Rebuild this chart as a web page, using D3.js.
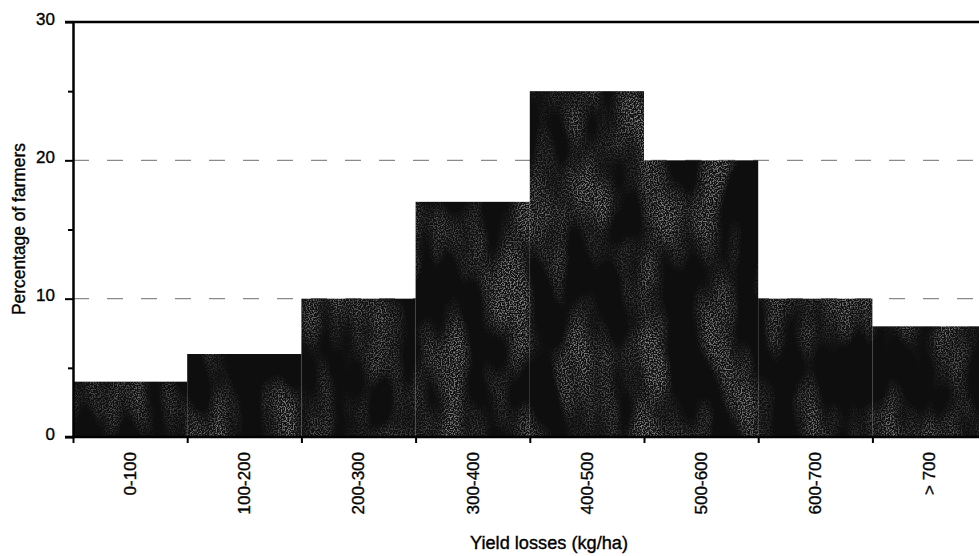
<!DOCTYPE html>
<html>
<head>
<meta charset="utf-8">
<script src="https://cdn.jsdelivr.net/npm/d3@7"></script>
<style>
  html, body { margin: 0; padding: 0; background: #fff; }
  svg { display: block; }
  text { font-family: "Liberation Sans", Arial, sans-serif; fill: #000; stroke: #000; stroke-width: 0.35px; }
</style>
</head>
<body>
<script>
// ---- data ----
const categories = ["0-100", "100-200", "200-300", "300-400", "400-500", "500-600", "600-700", "> 700"];
const percentages = [4, 6, 10, 17, 25, 20, 10, 8];
const yMajorTicks = [0, 10, 20, 30];
const yMinorTicks = [5, 15, 25];
const gridValues = [10, 20];
const xTitle = "Yield losses (kg/ha)";
const yTitle = "Percentage of farmers";

// ---- layout ----
const W = 979, H = 556;
const plotLeft = 73, plotTop = 22, plotBottom = 437;
const bandW = 114.2;
const plotRight = plotLeft + bandW * categories.length;

const svg = d3.select("body").append("svg").attr("width", W).attr("height", H);

const x = d3.scaleBand().domain(categories).range([plotLeft, plotRight]).padding(0);
const xb = d3.scaleLinear().domain([0, categories.length]).range([plotLeft, plotRight]);
const y = d3.scaleLinear().domain([0, 30]).range([plotBottom, plotTop]);

// gridlines
svg.append("g").selectAll("line").data(gridValues).join("line")
  .attr("x1", plotLeft).attr("x2", W)
  .attr("y1", d => y(d)).attr("y2", d => y(d))
  .attr("stroke", "#8a8a8a").attr("stroke-width", 1.3)
  .attr("stroke-dasharray", "16,18");

// speckle texture filter for bars (scanned-print look)
const defs = svg.append("defs");
const f = defs.append("filter").attr("id", "grain")
  .attr("x", 0).attr("y", 0).attr("width", 1).attr("height", 1)
  .attr("color-interpolation-filters", "sRGB");
f.append("feTurbulence").attr("type", "fractalNoise").attr("baseFrequency", "0.03 0.012")
  .attr("numOctaves", 2).attr("seed", 3).attr("result", "low");
f.append("feColorMatrix").attr("in", "low").attr("type", "matrix")
  .attr("values", "0 0 0 0 0  0 0 0 0 0  0 0 0 0 0  3.2 0 0 0 -1.3").attr("result", "mask");
f.append("feTurbulence").attr("type", "fractalNoise").attr("baseFrequency", "0.75")
  .attr("numOctaves", 1).attr("seed", 9).attr("result", "fine");
f.append("feColorMatrix").attr("in", "fine").attr("type", "matrix")
  .attr("values", "0 0 0 0 0.5  0 0 0 0 0.5  0 0 0 0 0.5  5 0 0 0 -2.25").attr("result", "specks");
f.append("feComposite").attr("in", "specks").attr("in2", "mask").attr("operator", "in").attr("result", "sp");
f.append("feComposite").attr("in", "sp").attr("in2", "SourceGraphic").attr("operator", "atop");

// bars
svg.append("g").selectAll("rect").data(categories).join("rect")
  .attr("x", d => x(d))
  .attr("y", (d, i) => y(percentages[i]))
  .attr("width", x.bandwidth())
  .attr("height", (d, i) => y(0) - y(percentages[i]))
  .attr("fill", "#0e0e0e")
  .attr("filter", "url(#grain)");

// top border
svg.append("line").attr("x1", plotLeft - 8).attr("x2", W).attr("y1", plotTop).attr("y2", plotTop)
  .attr("stroke", "#000").attr("stroke-width", 2.5);

// y axis major
const yAx = svg.append("g").attr("transform", `translate(${plotLeft},0)`)
  .call(d3.axisLeft(y).tickValues(yMajorTicks).tickSize(8).tickSizeOuter(0).tickPadding(10).tickFormat(d3.format("d")));
yAx.select(".domain").attr("stroke-width", 2.5);
yAx.selectAll(".tick line").attr("stroke-width", 2);
yAx.selectAll(".tick text").attr("font-size", 17).attr("dy", "0.12em")
  .style("font-family", '"Liberation Sans", Arial, sans-serif');

// y axis minor
const yMin = svg.append("g").attr("transform", `translate(${plotLeft},0)`)
  .call(d3.axisLeft(y).tickValues(yMinorTicks).tickSize(5).tickSizeOuter(0).tickFormat(""));
yMin.select(".domain").remove();
yMin.selectAll(".tick line").attr("stroke-width", 2);

// x axis boundary ticks
const xTk = svg.append("g").attr("transform", `translate(0,${plotBottom})`)
  .call(d3.axisBottom(xb).tickValues(d3.range(categories.length)).tickSize(6).tickSizeOuter(0).tickFormat(""));
xTk.select(".domain").remove();
xTk.selectAll(".tick line").attr("stroke-width", 2);

// x axis line + labels
const xAx = svg.append("g").attr("transform", `translate(0,${plotBottom})`)
  .call(d3.axisBottom(x).tickSize(0).tickSizeOuter(0));
xAx.select(".domain").attr("d", `M${plotLeft - 8},0H${W}`).attr("stroke-width", 2.5);
xAx.selectAll(".tick text")
  .attr("font-size", 17)
  .style("font-family", '"Liberation Sans", Arial, sans-serif')
  .attr("transform", "rotate(-90)")
  .attr("text-anchor", "end")
  .attr("x", -15).attr("y", 0).attr("dy", "0.35em");

// titles
svg.append("text").attr("x", 549).attr("y", 549).attr("text-anchor", "middle")
  .attr("font-size", 18).attr("textLength", 158).attr("lengthAdjust", "spacingAndGlyphs")
  .text(xTitle);
svg.append("text").attr("transform", "translate(25,229) rotate(-90)").attr("text-anchor", "middle")
  .attr("font-size", 18).attr("textLength", 172).attr("lengthAdjust", "spacingAndGlyphs")
  .text(yTitle);
</script>
</body>
</html>
